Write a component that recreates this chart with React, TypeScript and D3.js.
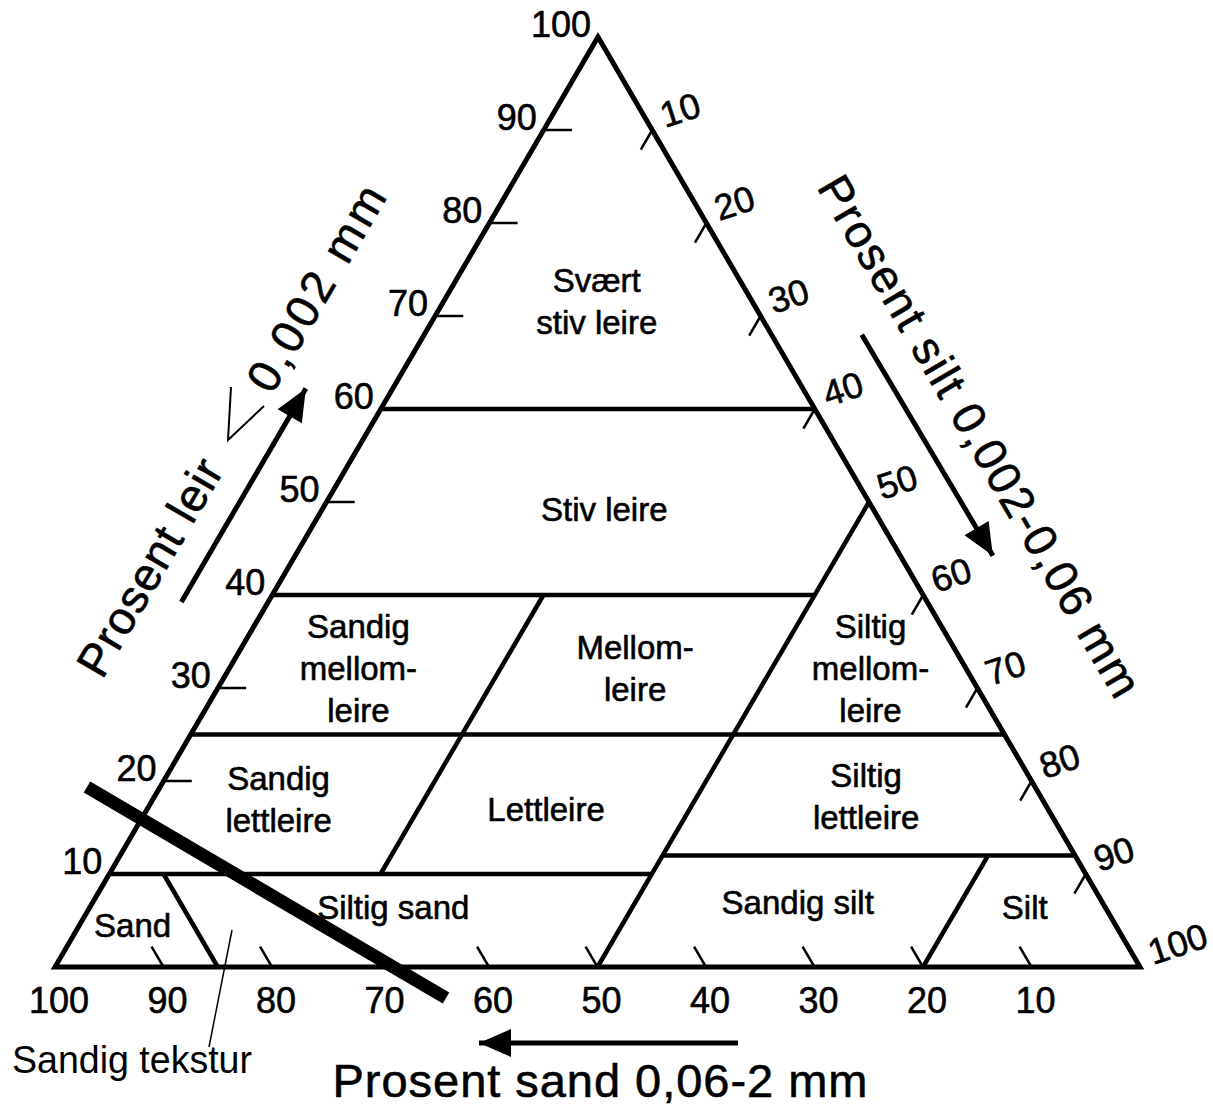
import React from 'react';
import * as d3 from 'd3';

// ---------- data ----------
const clayTickValues = [10, 20, 30, 40, 50, 60, 70, 80, 90];
const clayLabelValues = [10, 20, 30, 40, 50, 60, 70, 80, 90, 100];
const siltTickValues = [10, 20, 30, 40, 50, 60, 70, 80, 90];
const siltLabelValues = [10, 20, 30, 40, 50, 60, 70, 80, 90, 100];
const sandTickValues = [90, 80, 70, 60, 50, 40, 30, 20, 10];
const sandLabelValues = [100, 90, 80, 70, 60, 50, 40, 30, 20, 10];

// class boundaries, [clay, silt] at each end
const boundaryStart = [[60, 0], [40, 0], [25, 0], [10, 0], [12, 50], [50, 50], [40, 25], [12, 80], [10, 5]];
const boundaryEnd = [[60, 40], [40, 50], [25, 75], [10, 50], [12, 88], [0, 50], [10, 25], [0, 80], [0, 15]];

// texture classes and their anchor (clay %, silt %)
const zoneNames = [
  ['Svært', 'stiv leire'],
  ['Stiv leire'],
  ['Sandig', 'mellom-', 'leire'],
  ['Mellom-', 'leire'],
  ['Siltig', 'mellom-', 'leire'],
  ['Sandig', 'lettleire'],
  ['Lettleire'],
  ['Siltig', 'lettleire'],
  ['Sand'],
  ['Siltig sand'],
  ['Sandig silt'],
  ['Silt'],
];
const zoneClay = [71.6, 49.2, 32.1, 32.1, 32.1, 18.0, 16.9, 18.3, 4.5, 6.35, 6.9, 6.35];
const zoneSilt = [14.1, 26.0, 11.9, 37.4, 59.1, 11.6, 36.8, 65.6, 4.9, 28.0, 65.0, 86.2];

const clayTitle = ['Prosent leir', '0,002 mm'];
const siltTitle = 'Prosent silt 0,002-0,06 mm';
const sandTitle = 'Prosent sand 0,06-2 mm';
const noteText = 'Sandig tekstur';

// ---------- layout ----------
const W = 1213;
const H = 1110;
const FONT = '"Liberation Sans", Arial, Helvetica, sans-serif';
const BL = { x: 55, y: 967 };
const BR = { x: 1140, y: 967 };
const AP = { x: 598, y: 37 };
const TS = { stroke: '#000', strokeWidth: 0.6 };

function unit(a: { x: number; y: number }, b: { x: number; y: number }) {
  const dx = b.x - a.x, dy = b.y - a.y;
  const l = Math.hypot(dx, dy);
  return { x: dx / l, y: dy / l };
}

export default function App() {
  const siltX = d3.scaleLinear().domain([0, 100]).range([BL.x, BR.x]);
  const clayShift = d3.scaleLinear().domain([0, 100]).range([0, AP.x - BL.x]);
  const clayY = d3.scaleLinear().domain([0, 100]).range([BL.y, AP.y]);
  const P = (clay: number, silt: number): [number, number] => [siltX(silt) + clayShift(clay), clayY(clay)];
  const line = d3.line<[number, number]>();

  const uL = unit(BL, AP);
  const nL = { x: uL.y, y: -uL.x };
  const uR = unit(AP, BR);
  const nR = { x: uR.y, y: -uR.x };
  const angL = (Math.atan2(uL.y, uL.x) * 180) / Math.PI;
  const angR = (Math.atan2(uR.y, uR.x) * 180) / Math.PI;
  const onL = (a: number, n: number): [number, number] => [BL.x + uL.x * a + nL.x * n, BL.y + uL.y * a + nL.y * n];
  const onR = (a: number, n: number): [number, number] => [AP.x + uR.x * a + nR.x * n, AP.y + uR.y * a + nR.y * n];

  const arrowHead = (tip: [number, number], from: [number, number], len = 32, half = 14) => {
    const d = unit({ x: from[0], y: from[1] }, { x: tip[0], y: tip[1] });
    const bx = tip[0] - d.x * len, by = tip[1] - d.y * len;
    return `M${tip[0]},${tip[1]}L${bx - d.y * half},${by + d.x * half}L${bx + d.y * half},${by - d.x * half}Z`;
  };

  const lArrowA = onL(379, 75), lArrowB = onL(626, 75);
  const rArrowA = onR(390, 78), rArrowB = onR(647, 80);
  const bArrowA: [number, number] = [738, 1043], bArrowB: [number, number] = [479, 1043];

  const tri = line([P(0, 0), P(0, 100), P(100, 0)]) + 'Z';

  const pL1 = onL(393, 120);
  const pL2 = onL(718, 117);
  const pR = onR(537, 129);

  return (
    <svg width={W} height={H} style={{ position: 'absolute', left: 0, top: 0, background: '#fff' }} fontFamily={FONT}>
      <rect width={W} height={H} fill="#fff" />

      {/* class boundaries */}
      {boundaryStart.map((s, i) => (
        <path key={'b' + i} d={line([P(s[0], s[1]), P(boundaryEnd[i][0], boundaryEnd[i][1])]) || ''} stroke="#000" strokeWidth={4.5} fill="none" />
      ))}

      {/* ticks */}
      {clayTickValues.map((c) => (
        <path key={'ct' + c} d={line([P(c, 0), P(c, 2.6)]) || ''} stroke="#000" strokeWidth={2.5} />
      ))}
      {siltTickValues.map((s) => (
        <path key={'st' + s} d={line([P(100 - s, s), P(100 - s - 2.1, s)]) || ''} stroke="#000" strokeWidth={2.5} />
      ))}
      {sandTickValues.map((s) => (
        <path key={'sdt' + s} d={line([P(0, 100 - s), P(2.2, 100 - s - 2.2)]) || ''} stroke="#000" strokeWidth={2.5} />
      ))}

      {/* triangle */}
      <path d={tri} stroke="#000" strokeWidth={5} fill="none" strokeLinejoin="miter" />

      {/* tick labels */}
      {clayLabelValues.map((c) => {
        const [x, y] = P(c, 0);
        return (
          <text key={'cl' + c} x={x - 7} y={y - 13} dy="0.35em" textAnchor="end" fontSize={36} {...TS}>
            {c}
          </text>
        );
      })}
      {siltLabelValues.map((s) => {
        const [x, y] = P(100 - s, s);
        return (
          <text key={'sl' + s} x={x + 9} y={y - 14} dy="0.35em" textAnchor="start" fontSize={36} transform={`rotate(-18 ${x + 9} ${y - 14})`} {...TS}>
            {s}
          </text>
        );
      })}
      {sandLabelValues.map((s) => {
        const [x] = P(0, 100 - s);
        return (
          <text key={'sdl' + s} x={x + 4} y={1000} dy="0.35em" textAnchor="middle" fontSize={36} {...TS}>
            {s}
          </text>
        );
      })}

      {/* zone labels */}
      {zoneNames.map((lines, i) => {
        const [x, y] = P(zoneClay[i], zoneSilt[i]);
        return lines.map((t, j) => (
          <text key={'z' + i + '_' + j} x={x} y={y + (j - (lines.length - 1) / 2) * 42} dy="0.35em" textAnchor="middle" fontSize={33} {...TS}>
            {t}
          </text>
        ));
      })}

      {/* axis titles */}
      <text x={pL1[0]} y={pL1[1]} dy="0.35em" textAnchor="middle" fontSize={46} textLength={243} lengthAdjust="spacing" transform={`rotate(${angL} ${pL1[0]} ${pL1[1]})`} {...TS}>
        {clayTitle[0]}
      </text>
      <text x={pL2[0]} y={pL2[1]} dy="0.35em" textAnchor="middle" fontSize={46} textLength={230} lengthAdjust="spacing" transform={`rotate(${angL} ${pL2[0]} ${pL2[1]})`} {...TS}>
        {clayTitle[1]}
      </text>
      <path d="M231,387L228,440L264,406" stroke="#000" strokeWidth={2} fill="none" />
      <text x={pR[0]} y={pR[1]} dy="0.35em" textAnchor="middle" fontSize={46} textLength={595} lengthAdjust="spacing" transform={`rotate(${angR} ${pR[0]} ${pR[1]})`} {...TS}>
        {siltTitle}
      </text>
      <text x={600} y={1097} textAnchor="middle" fontSize={47} textLength={535} lengthAdjust="spacing" {...TS}>
        {sandTitle}
      </text>

      {/* direction arrows */}
      <path d={line([lArrowA, lArrowB]) || ''} stroke="#000" strokeWidth={5} />
      <path d={arrowHead(lArrowB, lArrowA)} fill="#000" />
      <path d={line([rArrowA, rArrowB]) || ''} stroke="#000" strokeWidth={5} />
      <path d={arrowHead(rArrowB, rArrowA)} fill="#000" />
      <path d={line([bArrowA, bArrowB]) || ''} stroke="#000" strokeWidth={5} />
      <path d={arrowHead(bArrowB, bArrowA)} fill="#000" />

      {/* sandy-texture annotation */}
      <path d="M87,787L446,998" stroke="#000" strokeWidth={13} />
      <path d="M232,930L209,1047" stroke="#000" strokeWidth={1.5} />
      <text x={12} y={1073} fontSize={38} textLength={240} lengthAdjust="spacingAndGlyphs">
        {noteText}
      </text>
    </svg>
  );
}
